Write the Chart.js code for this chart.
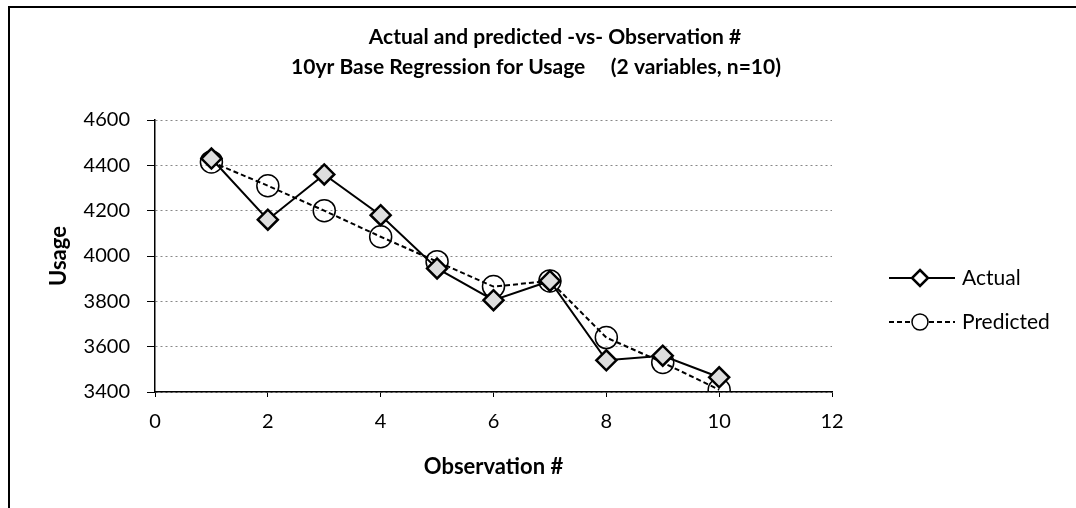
<!DOCTYPE html>
<html>
<head>
<title>Actual and predicted</title>
<script src="https://cdn.jsdelivr.net/npm/chart.js@4/dist/chart.umd.min.js"></script>
<style>
  body { margin: 0; padding: 0; background: #fff; }
  #wrap { position: relative; width: 1076px; height: 508px; }
</style>
</head>
<body>
<div id="wrap"><canvas id="chart" width="1076" height="508"></canvas></div>
<script>
// observations 1..10
const observations = [1, 2, 3, 4, 5, 6, 7, 8, 9, 10];
const actual    = [4430, 4160, 4360, 4180, 3945, 3805, 3890, 3540, 3560, 3465];
const predicted = [4415, 4310, 4200, 4085, 3975, 3865, 3890, 3640, 3530, 3410];
const titleLines = ["Actual and predicted -vs- Observation #", "10yr Base Regression for Usage     (2 variables, n=10)"];
const xTitle = "Observation #";
const yTitle = "Usage";
const seriesNames = ["Actual", "Predicted"];

const FONT = "Lato, 'Open Sans', sans-serif";

// outer frame, two title lines and the legend on the right
const decor = {
  id: "decor",
  beforeDraw(chart) {
    const c = chart.ctx;
    c.save();
    c.fillStyle = "#fff";
    c.fillRect(0, 0, chart.width, chart.height);
    c.strokeStyle = "#000";
    c.lineWidth = 2;
    c.beginPath();
    c.moveTo(9, chart.height);
    c.lineTo(9, 7);
    c.lineTo(chart.width, 7);
    c.stroke();
    c.restore();
  },
  afterDraw(chart) {
    const c = chart.ctx;
    c.save();
    c.fillStyle = "#000";
    c.textAlign = "center";
    c.textBaseline = "middle";
    c.font = "bold 21px " + FONT;
    c.fillText(titleLines[0], 555, 37);
    c.fillText(titleLines[1], 536, 67);

    // legend
    const rows = [278, 322];
    chart.data.datasets.forEach((ds, i) => {
      const y = rows[i];
      c.strokeStyle = "#000";
      c.lineWidth = 2;
      c.setLineDash(ds.borderDash || []);
      c.beginPath();
      c.moveTo(889, y);
      c.lineTo(955, y);
      c.stroke();
      c.setLineDash([]);
      c.lineWidth = ds.pointBorderWidth;
      c.fillStyle = "#fff";
      c.beginPath();
      if (ds.pointStyle === "rectRot") {
        c.moveTo(920, y - 8); c.lineTo(928, y); c.lineTo(920, y + 8); c.lineTo(912, y); c.closePath();
      } else {
        c.arc(920, y, 8, 0, Math.PI * 2);
      }
      c.fill();
      c.stroke();
      c.fillStyle = "#000";
      c.textAlign = "left";
      c.font = "21px " + FONT;
      c.fillText(ds.label, 962, y);
    });
    c.restore();
  }
};

new Chart(document.getElementById("chart"), {
  type: "line",
  data: {
    datasets: [
      {
        label: seriesNames[0],
        data: observations.map((x, i) => ({ x: x, y: actual[i] })),
        borderColor: "#000",
        borderWidth: 2,
        pointStyle: "rectRot",
        pointRadius: 10,
        pointBorderWidth: 2.5,
        pointBorderColor: "#000",
        pointBackgroundColor: "#dedede",
        tension: 0
      },
      {
        label: seriesNames[1],
        data: observations.map((x, i) => ({ x: x, y: predicted[i] })),
        borderColor: "#000",
        borderWidth: 2,
        borderDash: [5, 3],
        pointStyle: "circle",
        pointRadius: 11,
        pointBorderWidth: 1.5,
        pointBorderColor: "#000",
        pointBackgroundColor: "rgba(255,255,255,0)",
        tension: 0
      }
    ]
  },
  options: {
    responsive: false,
    animation: false,
    layout: { padding: { left: 42, top: 120, right: 244, bottom: 24 } },
    plugins: {
      legend: { display: false },
      title: { display: false },
      tooltip: { enabled: false }
    },
    scales: {
      x: {
        type: "linear",
        min: 0,
        max: 12,
        ticks: { stepSize: 2, color: "#000", font: { family: FONT, size: 20 }, padding: 13, maxRotation: 0 },
        grid: { drawOnChartArea: false, drawTicks: true, tickLength: 5, tickColor: "#000" },
        border: { display: true, color: "#000", width: 1.5 },
        title: { display: true, text: xTitle, color: "#000", font: { family: FONT, size: 22, weight: "bold" }, padding: { top: 4, bottom: 4 } },
        afterFit(scale) { scale.height = 92; }
      },
      y: {
        min: 3400,
        max: 4600,
        ticks: { stepSize: 200, color: "#000", font: { family: FONT, size: 20 }, padding: 17, callback: v => String(v) },
        grid: { color: "#888", lineWidth: 1, drawTicks: true, tickLength: 8, tickColor: "#000" },
        border: { display: true, color: "#000", width: 1.5, dash: [2, 3] },
        title: { display: true, text: yTitle, color: "#000", font: { family: FONT, size: 22, weight: "bold" }, padding: { top: 4, bottom: 4 } },
        afterFit(scale) { scale.width = 113; }
      }
    }
  },
  plugins: [decor]
});
</script>
</body>
</html>
